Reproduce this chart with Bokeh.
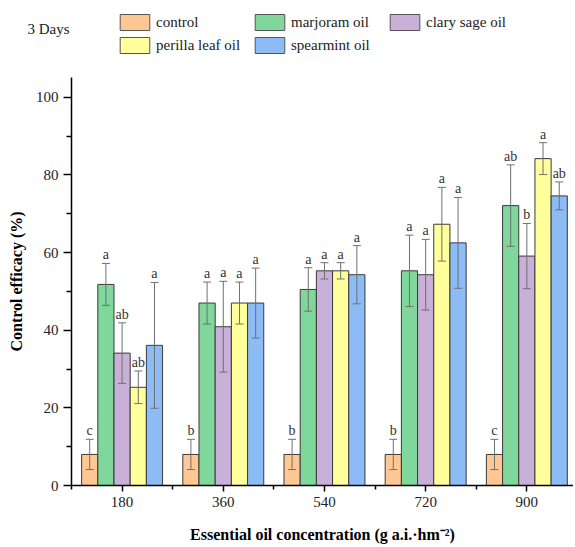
from bokeh.plotting import figure
from bokeh.layouts import column
from bokeh.models import (Range1d, FixedTicker, Whisker, TeeHead, ColumnDataSource,
                          Legend, LegendItem, LinearAxis)
from bokeh.core.properties import value
from bokeh.embed import file_html
from bokeh.resources import INLINE

concentrations = ["180", "360", "540", "720", "900"]
series_names = ["control", "marjoram oil", "clary sage oil", "perilla leaf oil", "spearmint oil"]
colors = ["#FFC794", "#7FD79B", "#C8B0D8", "#FFFF9C", "#8DBBF5"]
panel_title = "3 Days"

control = [8.0, 8.0, 8.0, 8.0, 8.0]
control_err = [3.9, 3.9, 3.9, 3.9, 3.9]
control_sig = ["c", "b", "b", "b", "c"]

marjoram = [51.8, 47.0, 50.5, 55.3, 72.1]
marjoram_err = [5.4, 5.4, 5.6, 9.2, 10.5]
marjoram_sig = ["a", "a", "a", "a", "ab"]

clary = [34.1, 40.9, 55.3, 54.3, 59.1]
clary_err = [7.8, 11.7, 2.1, 9.1, 8.4]
clary_sig = ["ab", "a", "a", "a", "b"]

perilla = [25.3, 47.0, 55.3, 67.3, 84.2]
perilla_err = [4.2, 5.4, 2.1, 9.5, 4.1]
perilla_sig = ["ab", "a", "a", "a", "a"]

spearmint = [36.1, 47.0, 54.3, 62.5, 74.6]
spearmint_err = [16.2, 9.0, 7.5, 11.7, 3.6]
spearmint_sig = ["a", "a", "a", "a", "ab"]

series_vals = [control, marjoram, clary, perilla, spearmint]
series_errs = [control_err, marjoram_err, clary_err, perilla_err, spearmint_err]
series_sigs = [control_sig, marjoram_sig, clary_sig, perilla_sig, spearmint_sig]

QFONT = "'Liberation Serif'"
bar_w = 0.16
offsets = [-0.32, -0.16, 0.0, 0.16, 0.32]
LEFT = 71

# ---------- main chart ----------
p = figure(frame_width=502, frame_height=408, output_backend="svg", toolbar_location=None,
           x_range=Range1d(0.5, 5.461), y_range=Range1d(0, 105.1),
           min_border_left=LEFT, min_border_right=0, min_border_top=0, min_border_bottom=40)
p.outline_line_color = None
p.xgrid.grid_line_color = None
p.ygrid.grid_line_color = None

# ---------- legend strip ----------
top = figure(frame_width=502, height=77, output_backend="svg", toolbar_location=None,
             x_range=Range1d(-2, -1), y_range=Range1d(-2, -1),
             x_axis_type=None, y_axis_type=None,
             min_border_left=LEFT, min_border_right=0, min_border_top=0, min_border_bottom=21)
top.outline_line_color = None
top.xgrid.grid_line_color = None
top.ygrid.grid_line_color = None

keys = []
for vals, errs, sigs, col, off in zip(series_vals, series_errs, series_sigs, colors, offsets):
    xs = [i + 1 + off for i in range(len(concentrations))]
    src = ColumnDataSource(dict(x=xs, top=vals,
                                upper=[v + e for v, e in zip(vals, errs)],
                                lower=[v - e for v, e in zip(vals, errs)],
                                sig=sigs))
    p.vbar(x="x", top="top", bottom=0, width=bar_w, source=src,
           fill_color=col, line_color="#3a3a3a", line_width=1)
    w = Whisker(source=src, base="x", upper="upper", lower="lower", level="overlay",
                line_color="#707070", line_width=1,
                upper_head=TeeHead(size=8, line_color="#707070", line_width=1),
                lower_head=TeeHead(size=8, line_color="#707070", line_width=1))
    p.add_layout(w)
    p.text(x="x", y="upper", text="sig", source=src, text_align="center",
           text_baseline="bottom", y_offset=-1, text_font=value(QFONT),
           text_font_size="14px", text_color="#333333")
    # legend key renderer (same data, outside the strip's visible range)
    keys.append(top.vbar(x="x", top="top", bottom=0, width=bar_w, source=src,
                         fill_color=col, line_color="#555555", line_width=1))

p.xaxis.ticker = FixedTicker(ticks=[1, 2, 3, 4, 5],
                             minor_ticks=[0.5, 1.5, 2.5, 3.5, 4.5, 5.5])
p.xaxis.major_label_overrides = {i + 1: c for i, c in enumerate(concentrations)}
p.yaxis.ticker = FixedTicker(ticks=[0, 20, 40, 60, 80, 100],
                             minor_ticks=[10, 30, 50, 70, 90])
for ax in (p.xaxis, p.yaxis):
    ax.axis_line_width = 1.5
    ax.axis_line_color = "black"
    ax.major_tick_line_color = "black"
    ax.minor_tick_line_color = "black"
    ax.major_tick_line_width = 1.5
    ax.minor_tick_line_width = 1.5
    ax.major_tick_in = 0
    ax.minor_tick_in = 0
    ax.major_label_text_font = QFONT
    ax.major_label_text_font_size = "15px"
    ax.major_label_text_color = "#222222"
    ax.axis_label_text_font = QFONT
    ax.axis_label_text_font_size = "16px"
    ax.axis_label_text_font_style = "bold"
    ax.axis_label_text_color = "black"
p.xaxis.major_tick_out = 6
p.xaxis.minor_tick_out = 4
p.yaxis.major_tick_out = 8
p.yaxis.minor_tick_out = 5
p.xaxis.axis_label = "Essential oil concentration (g a.i.\u00b7hm\u207b\u00b2)"
p.yaxis.axis_label = "Control efficacy (%)"
p.xaxis.major_label_standoff = 5
p.xaxis.axis_label_standoff = 16
p.yaxis.axis_label_standoff = 8

# "3 Days" as a horizontal axis label in the strip's left border
title_axis = LinearAxis(axis_label=panel_title, axis_label_orientation="horizontal",
                        axis_line_color=None, major_tick_line_color=None,
                        minor_tick_line_color=None, major_label_text_font_size="0px",
                        axis_label_standoff=2, axis_label_text_font=QFONT,
                        axis_label_text_font_size="15px", axis_label_text_font_style="normal",
                        axis_label_text_color="#222222")
title_axis.ticker = FixedTicker(ticks=[])
top.add_layout(title_axis, "left")

legend = Legend(items=[LegendItem(label=n, renderers=[r]) for n, r in zip(series_names, keys)],
                location=(45, 1), orientation="horizontal", nrows=2,
                glyph_width=37, glyph_height=20, label_standoff=3, spacing=3,
                label_width=92,
                padding=0, margin=0, border_line_color=None, background_fill_alpha=0,
                label_text_font=QFONT, label_text_font_size="15px", label_text_color="#222222")
top.add_layout(legend, "center")

layout = column(top, p, spacing=0)
open("out.html", "w").write(file_html(layout, INLINE))
